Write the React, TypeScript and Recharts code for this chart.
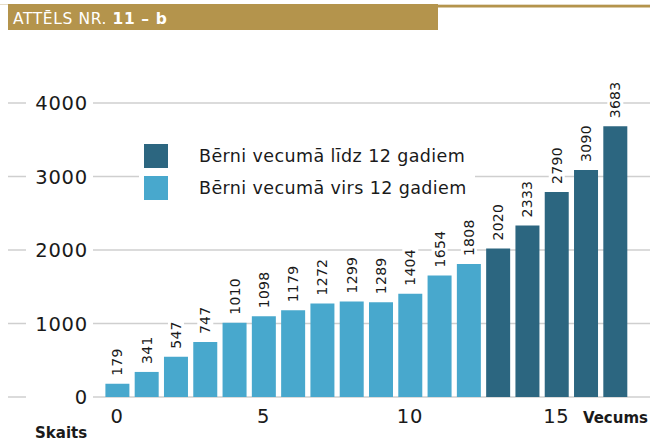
import React from 'react'
import { BarChart, Bar, XAxis, YAxis, CartesianGrid, Cell, LabelList } from 'recharts'

const ages = [0, 1, 2, 3, 4, 5, 6, 7, 8, 9, 10, 11, 12, 13, 14, 15, 16, 17]
const counts = [179, 341, 547, 747, 1010, 1098, 1179, 1272, 1299, 1289, 1404, 1654, 1808, 2020, 2333, 2790, 3090, 3683]
const yTicks = [0, 1000, 2000, 3000, 4000]
const legendItems = [
  { label: 'Bērni vecumā līdz 12 gadiem', color: '#2c6680' },
  { label: 'Bērni vecumā virs 12 gadiem', color: '#48a8cd' },
]

const LIGHT = '#48a8cd'
const DARK = '#2c6680'
const GOLD = '#b4944c'
const FONT = '"DejaVu Sans", sans-serif'

const data = ages.map((age, i) => ({ age, count: counts[i] }))

const YTick = (props: any) => {
  const { y, payload } = props
  return (
    <g>
      <line x1={8} x2={26} y1={y} y2={y} stroke="#cfcfcf" strokeWidth={1.5} />
      <text x={88} y={y} dy={7} textAnchor="end" fontSize={19.5} letterSpacing={0.8} fill="#1a1a1a" fontFamily={FONT}>
        {payload.value}
      </text>
    </g>
  )
}

const XTick = (props: any) => {
  const { x, payload } = props
  return (
    <text x={x} y={423} textAnchor="middle" fontSize={19.5} letterSpacing={0.8} fill="#1a1a1a" fontFamily={FONT}>
      {payload.value}
    </text>
  )
}

const ValueLabel = (props: any) => {
  const { x, y, width, value } = props
  const cx = x + width / 2
  const top = y - 8
  const len = String(value).length * 9
  return (
    <g>
      <rect x={cx - 8} y={top - len - 1} width={16} height={len + 2} fill="#fff" />
      <text
        x={cx}
        y={top}
        transform={`rotate(-90, ${cx}, ${top})`}
        textAnchor="start"
        dominantBaseline="central"
        fontSize={14}
        letterSpacing={0.3}
        fill="#1a1a1a"
        fontFamily={FONT}
      >
        {value}
      </text>
    </g>
  )
}

export default function App() {
  return (
    <div style={{ position: 'absolute', left: 0, top: 0, width: 650, height: 441, background: '#fff', overflow: 'hidden' }}>
      <BarChart
        width={650}
        height={441}
        data={data}
        margin={{ top: 103, right: 0, left: 0, bottom: 0 }}
        barSize={24}
      >
        <CartesianGrid vertical={false} stroke="#cfcfcf" strokeWidth={1.5} />
        <YAxis
          domain={[0, 4000]}
          ticks={yTicks}
          width={93}
          axisLine={false}
          tickLine={false}
          tick={<YTick />}
          interval={0}
        />
        <XAxis
          dataKey="age"
          height={44}
          axisLine={false}
          tickLine={false}
          interval={4}
          padding={{ left: 9.4, right: 20.4 }}
          tick={<XTick />}
        />
        <Bar dataKey="count" isAnimationActive={false}>
          {data.map(d => (
            <Cell key={d.age} fill={d.age >= 13 ? DARK : LIGHT} />
          ))}
          <LabelList dataKey="count" content={<ValueLabel />} />
        </Bar>
      </BarChart>

      <svg width={650} height={441} style={{ position: 'absolute', left: 0, top: 0, pointerEvents: 'none' }}>
        <rect x={0} y={4} width={650} height={1} fill="#e6dcc6" />
        <rect x={8} y={4} width={430} height={26} fill={GOLD} />
        <rect x={438} y={5} width={212} height={2.5} fill={GOLD} />
        <text x={13} y={24} fontSize={15.5} letterSpacing={0.6} fill="#fff" fontFamily={FONT}>
          ATTĒLS NR. <tspan fontWeight="bold">11 – b</tspan>
        </text>
        <text x={648} y={423} textAnchor="end" fontSize={15} fontWeight="bold" fill="#1a1a1a" fontFamily={FONT}>
          Vecums
        </text>
        <text x={35} y={438} fontSize={15} fontWeight="bold" fill="#1a1a1a" fontFamily={FONT}>
          Skaits
        </text>
      </svg>

      <div
        style={{
          position: 'absolute',
          left: 139,
          top: 136,
          background: '#fff',
          padding: '4px 8px 4px 5px',
          fontFamily: FONT,
          fontSize: 17.5,
          letterSpacing: 0.4,
          color: '#1a1a1a',
        }}
      >
        {legendItems.map(item => (
          <div key={item.label} style={{ display: 'flex', alignItems: 'center', height: 32 }}>
            <span style={{ width: 24, height: 24, background: item.color, display: 'inline-block', marginRight: 31 }} />
            <span>{item.label}</span>
          </div>
        ))}
      </div>
    </div>
  )
}
